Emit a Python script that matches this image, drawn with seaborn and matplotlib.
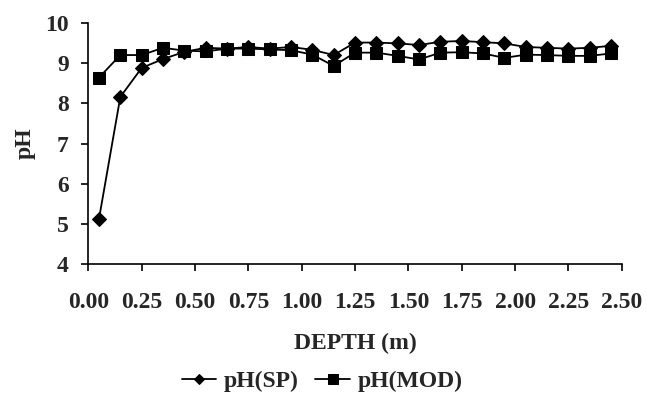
import numpy as np
import pandas as pd
import seaborn as sns
import matplotlib.pyplot as plt
from matplotlib.ticker import FormatStrFormatter, MultipleLocator

# profondeurs (m)
depth = [0.05, 0.15, 0.25, 0.35, 0.45, 0.55, 0.65, 0.75, 0.85, 0.95,
         1.05, 1.15, 1.25, 1.35, 1.45, 1.55, 1.65, 1.75, 1.85, 1.95,
         2.05, 2.15, 2.25, 2.35, 2.45]

ph_sp = [5.13, 8.16, 8.88, 9.10, 9.28, 9.38, 9.36, 9.40, 9.36, 9.40,
         9.33, 9.20, 9.51, 9.51, 9.49, 9.45, 9.53, 9.55, 9.52, 9.49,
         9.40, 9.38, 9.36, 9.38, 9.43]

ph_mod = [8.64, 9.20, 9.20, 9.38, 9.31, 9.29, 9.36, 9.36, 9.34, 9.32,
          9.21, 8.93, 9.26, 9.26, 9.18, 9.09, 9.26, 9.27, 9.24, 9.13,
          9.21, 9.20, 9.18, 9.18, 9.24]

df = pd.DataFrame({'depth': depth, 'pH(SP)': ph_sp, 'pH(MOD)': ph_mod})

sns.set_style("ticks")
plt.rcParams['font.family'] = ['Liberation Serif', 'DejaVu Serif']
plt.rcParams['font.weight'] = 'bold'

fs = 17
fig = plt.figure(figsize=(6.47, 3.94), dpi=100)
ax = fig.add_axes([0.1365, 0.329, 0.8245, 0.613])

sns.lineplot(data=df, x='depth', y='pH(SP)', ax=ax, color='black', lw=1.3,
             marker='D', markersize=7, markeredgecolor='black', label='pH(SP)')
sns.lineplot(data=df, x='depth', y='pH(MOD)', ax=ax, color='black', lw=1.3,
             marker='s', markersize=9, markeredgecolor='black', label='pH(MOD)')

ax.set_xlim(0, 2.5)
ax.set_ylim(4, 10)
ax.xaxis.set_major_locator(MultipleLocator(0.25))
ax.xaxis.set_major_formatter(FormatStrFormatter('%.2f'))
ax.yaxis.set_major_locator(MultipleLocator(1))
sns.despine(ax=ax)
for s in ['left', 'bottom']:
    ax.spines[s].set_linewidth(1.2)
    ax.spines[s].set_color('black')
ax.tick_params(axis='both', direction='out', length=5, width=1.2, color='black',
               labelsize=fs)
ax.tick_params(axis='x', pad=15)
ax.tick_params(axis='y', pad=9)
for lab in ax.get_xticklabels() + ax.get_yticklabels():
    lab.set_fontweight('bold')

ax.set_xlabel("DEPTH (m)", fontsize=fs, fontweight='bold', labelpad=14)
ax.set_ylabel("pH", fontsize=fs, fontweight='bold', labelpad=7)

ax.legend(loc='center', bbox_to_anchor=(0.498, 0.032), bbox_transform=fig.transFigure,
          ncol=2, frameon=False, handlelength=1.45, handletextpad=0.35,
          columnspacing=0.7, markerscale=0.8, prop={'weight': 'bold', 'size': fs})

fig.savefig("out.png", dpi=100)
